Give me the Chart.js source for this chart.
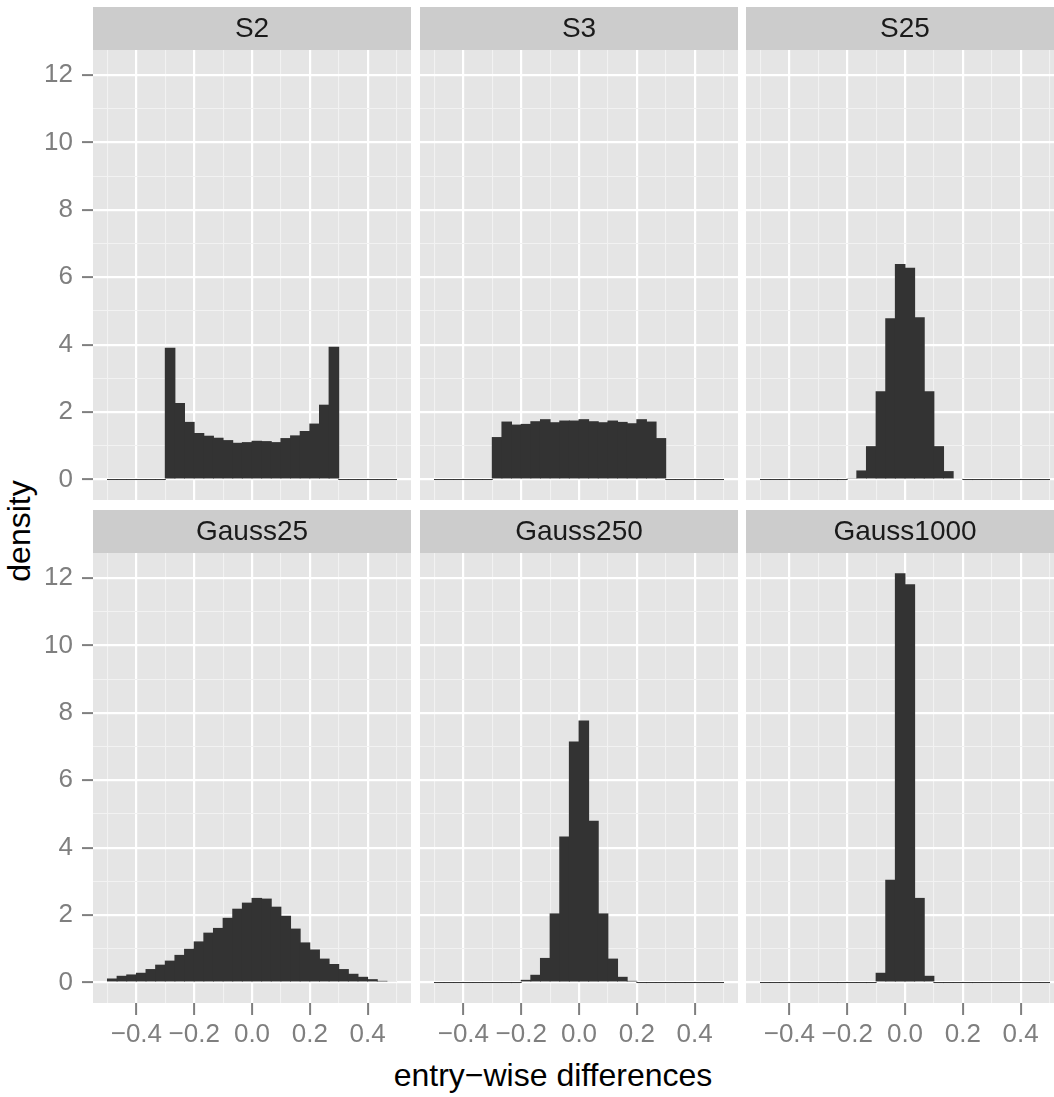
<!DOCTYPE html>
<html>
<head>
<meta charset="utf-8">
<script src="https://cdn.jsdelivr.net/npm/chart.js@4.4.1/dist/chart.umd.min.js"></script>
<style>
  html, body { margin: 0; padding: 0; background: #fff; overflow: hidden; }
  #wrap { position: relative; width: 1070px; height: 1097px; font-family: "Liberation Sans", Arial, sans-serif; }
  #wrap canvas { position: absolute; }
  .axis-title { position: absolute; color: #000; font-size: 32px; line-height: 32px; height: 32px; text-align: center; white-space: nowrap; }
</style>
</head>
<body>
<div id="wrap">
  <div class="axis-title" style="left:353px; top:1059px; width:400px;">entry−wise differences</div>
  <div class="axis-title" style="left:-81px; top:515px; width:200px; transform:rotate(-90deg);">density</div>
</div>
<script>
// bin centres of the 30 histogram bins (binwidth 1/30 on -0.5..0.5)
const binCenters = [-0.4833, -0.45, -0.4167, -0.3833, -0.35, -0.3167, -0.2833, -0.25, -0.2167, -0.1833,
                    -0.15, -0.1167, -0.0833, -0.05, -0.0167, 0.0167, 0.05, 0.0833, 0.1167, 0.15,
                    0.1833, 0.2167, 0.25, 0.2833, 0.3167, 0.35, 0.3833, 0.4167, 0.45, 0.4833];

const panelNames = ["S2", "S3", "S25", "Gauss25", "Gauss250", "Gauss1000"];

// density per bin
const s2 = [0, 0, 0, 0, 0, 0, 3.91, 2.27, 1.71, 1.38, 1.30, 1.24, 1.17, 1.09, 1.11,
            1.15, 1.14, 1.11, 1.23, 1.31, 1.44, 1.66, 2.22, 3.94, 0, 0, 0, 0, 0, 0];
const s3 = [0, 0, 0, 0, 0, 0, 1.26, 1.72, 1.63, 1.65, 1.73, 1.79, 1.70, 1.75, 1.75,
            1.79, 1.73, 1.70, 1.75, 1.71, 1.67, 1.79, 1.72, 1.23, 0, 0, 0, 0, 0, 0];
const s25 = [0, 0, 0, 0, 0, 0, 0, 0, 0, 0.04, 0.27, 0.99, 2.62, 4.78, 6.39,
             6.28, 4.81, 2.62, 0.99, 0.25, 0.03, 0, 0, 0, 0, 0, 0, 0, 0, 0];
const gauss25 = [0.12, 0.20, 0.24, 0.29, 0.40, 0.53, 0.65, 0.82, 1.00, 1.22, 1.48, 1.62, 1.92, 2.19, 2.37,
                 2.51, 2.49, 2.25, 1.98, 1.60, 1.19, 0.98, 0.71, 0.55, 0.40, 0.26, 0.17, 0.10, 0.05, 0.02];
const gauss250 = [0, 0, 0, 0, 0, 0, 0, 0, 0, 0.08, 0.23, 0.73, 2.05, 4.33, 7.15,
                  7.77, 4.80, 2.05, 0.71, 0.17, 0.05, 0, 0, 0, 0, 0, 0, 0, 0, 0];
const gauss1000 = [0, 0, 0, 0, 0, 0, 0, 0, 0, 0, 0, 0, 0.29, 3.05, 12.14,
                   11.81, 2.51, 0.20, 0, 0, 0, 0, 0, 0, 0, 0, 0, 0, 0, 0];

const panelValues = [s2, s3, s25, gauss25, gauss250, gauss1000];

const xMajorTicks = [-0.4, -0.2, 0, 0.2, 0.4];
const xMinorTicks = [-0.5, -0.3, -0.1, 0.1, 0.3, 0.5];
const yMajorTicks = [0, 2, 4, 6, 8, 10, 12];
const yMinorTicks = [1, 3, 5, 7, 9, 11];
const xRange = [-0.55, 0.55];
const yRange = [-0.607, 12.74];

// layout (px)
const FONT = '"Liberation Sans", Arial, sans-serif';
const colLeft = [93, 420, 746];
const rowTop = [7, 510];
const PANEL_W = 318, PANEL_H = 450, STRIP_H = 43;
const Y_AXIS_W = 93, X_AXIS_H = 48;

function buildTicks(major, minor) {
    const t = major.map(v => ({ value: v, minor: false }))
        .concat(minor.map(v => ({ value: v, minor: true })));
    return t.sort((a, b) => a.value - b.value);
}

function fmtX(v) {
    const s = Math.abs(v).toFixed(1);
    return v < -1e-9 ? "\u2212" + s : s;
}

const panelBackground = {
    id: "panelBackground",
    beforeDraw(chart) {
        const { ctx, chartArea: a } = chart;
        ctx.save();
        ctx.fillStyle = "#CCCCCC";
        ctx.fillRect(a.left, 0, a.width, a.top);
        ctx.fillStyle = "#E5E5E5";
        ctx.fillRect(a.left, a.top, a.width, a.height);
        ctx.restore();
    }
};

const gridColor = c => (c.tick && c.tick.minor ? "#F2F2F2" : "#FFFFFF");
const gridWidth = c => (c.tick && c.tick.minor ? 1.1 : 2.2);
const tickColor = c => (c.tick && c.tick.minor ? "rgba(0,0,0,0)" : "#7F7F7F");

const wrap = document.getElementById("wrap");

panelNames.forEach((name, i) => {
    const row = Math.floor(i / 3);
    const col = i % 3;
    const showY = col === 0;
    const showX = row === 1;

    const canvas = document.createElement("canvas");
    const w = PANEL_W + (showY ? Y_AXIS_W : 0);
    const h = STRIP_H + PANEL_H + (showX ? X_AXIS_H : 0);
    canvas.width = w;
    canvas.height = h;
    canvas.style.left = (showY ? colLeft[col] - Y_AXIS_W : colLeft[col]) + "px";
    canvas.style.top = rowTop[row] + "px";
    canvas.style.width = w + "px";
    canvas.style.height = h + "px";
    wrap.appendChild(canvas);

    const values = panelValues[i];

    new Chart(canvas, {
        type: "bar",
        data: {
            datasets: [{
                data: binCenters.map((x, k) => ({ x: x, y: values[k] })),
                backgroundColor: "#333333",
                borderWidth: 0,
                barPercentage: 1.1,   // slight overlap so neighbouring bars show no seams
                categoryPercentage: 1,
                minBarLength: 1
            }]
        },
        options: {
            responsive: false,
            animation: false,
            events: [],
            devicePixelRatio: 1,
            layout: { padding: 0 },
            plugins: {
                legend: { display: false },
                tooltip: { enabled: false },
                title: {
                    display: true,
                    text: name,
                    fullSize: false,
                    color: "#1A1A1A",
                    font: { family: FONT, size: 28, weight: "normal", lineHeight: 1.2 },
                    padding: { top: 5, bottom: 4.4 }
                }
            },
            scales: {
                x: {
                    type: "linear",
                    min: xRange[0],
                    max: xRange[1],
                    offset: false,
                    afterBuildTicks: s => { s.ticks = buildTicks(xMajorTicks, xMinorTicks); },
                    afterFit: s => {
                        s.height = showX ? X_AXIS_H : 0;
                        s.paddingLeft = s.paddingRight = s.paddingTop = s.paddingBottom = 0;
                    },
                    border: { display: false },
                    grid: {
                        offset: false,
                        color: gridColor,
                        lineWidth: gridWidth,
                        drawTicks: showX,
                        tickLength: 12,
                        tickColor: tickColor,
                        tickWidth: 2
                    },
                    ticks: {
                        display: showX,
                        autoSkip: false,
                        maxRotation: 0,
                        padding: 4,
                        color: "#7F7F7F",
                        font: { family: FONT, size: 26 },
                        callback: (v, idx, ticks) => (ticks[idx].minor ? "" : fmtX(v))
                    }
                },
                y: {
                    type: "linear",
                    min: yRange[0],
                    max: yRange[1],
                    afterBuildTicks: s => { s.ticks = buildTicks(yMajorTicks, yMinorTicks); },
                    afterFit: s => {
                        s.width = showY ? Y_AXIS_W : 0;
                        s.paddingLeft = s.paddingRight = s.paddingTop = s.paddingBottom = 0;
                    },
                    border: { display: false },
                    grid: {
                        color: gridColor,
                        lineWidth: gridWidth,
                        drawTicks: showY,
                        tickLength: 11,
                        tickColor: tickColor,
                        tickWidth: 2
                    },
                    ticks: {
                        display: showY,
                        autoSkip: false,
                        padding: 9,
                        color: "#7F7F7F",
                        font: { family: FONT, size: 26 },
                        callback: (v, idx, ticks) => (ticks[idx].minor ? "" : String(v))
                    }
                }
            }
        },
        plugins: [panelBackground]
    });
});
</script>
</body>
</html>
